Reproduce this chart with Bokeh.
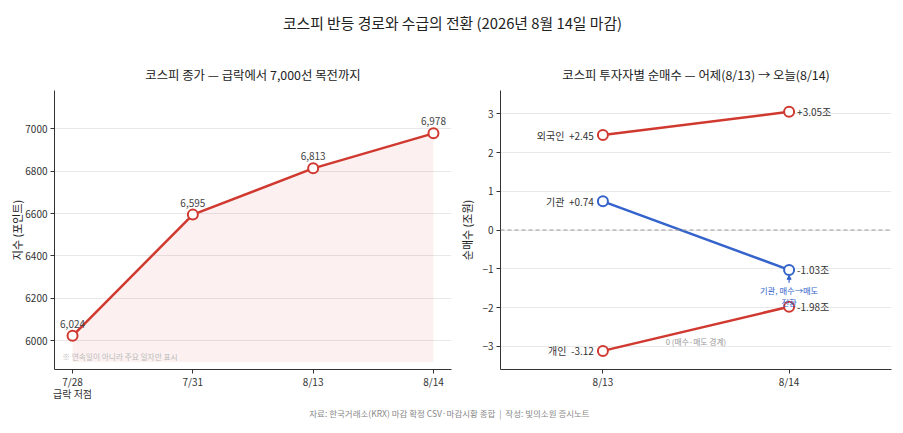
from bokeh.plotting import figure
from bokeh.models import (ColumnDataSource, Range1d, FixedTicker, Div, Arrow,
                          NormalHead, Span, Label, LabelSet)
from bokeh.layouts import column, row
from bokeh.embed import file_html
from bokeh.resources import INLINE
from bokeh.core.properties import value

FONT = "Noto Sans CJK KR"
RED = "#d0392f"
BLUE = "#3563cc"

# ---------------- data ----------------
dates = ["7/28", "7/31", "8/13", "8/14"]
date_notes = ["급락 저점", "", "", ""]
kospi = [6024, 6595, 6813, 6978]
fill_base = 5900

days = ["8/13", "8/14"]
investors = ["외국인", "기관", "개인"]
net_813 = [2.45, 0.74, -3.12]
net_814 = [3.05, -1.03, -1.98]
inv_colors = [RED, BLUE, RED]

left_yticks = [6000, 6200, 6400, 6600, 6800, 7000]
right_yticks = [-3, -2, -1, 0, 1, 2, 3]

main_title = "코스피 반등 경로와 수급의 전환 (2026년 8월 14일 마감)"
left_title = "코스피 종가 — 급락에서 7,000선 목전까지"
right_title = "코스피 투자자별 순매수 — 어제(8/13) → 오늘(8/14)"
left_ylabel = "지수 (포인트)"
right_ylabel = "순매수 (조원)"
left_note = "※ 연속일이 아니라 주요 일자만 표시"
zero_note = "0 (매수·매도 경계)"
turn_note = "기관, 매수→매도\n전환"
footer = "자료: 한국거래소(KRX) 마감 확정 CSV·마감시황 종합 &nbsp;|&nbsp; 작성: 빛의소원 증시노트"


def style(p, ylab_standoff):
    p.outline_line_color = None
    p.xgrid.grid_line_color = None
    p.ygrid.grid_line_color = "#e8e8e8"
    p.ygrid.grid_line_width = 1
    for ax in p.axis:
        ax.axis_line_color = "#333333"
        ax.axis_line_width = 1
        ax.major_tick_line_color = "#333333"
        ax.major_tick_out = 4
        ax.major_tick_in = 0
        ax.minor_tick_line_color = None
        ax.major_label_text_font = FONT
        ax.major_label_text_font_size = "10px"
        ax.major_label_text_color = "#333333"
        ax.axis_label_text_font = FONT
        ax.axis_label_text_font_size = "11px"
        ax.axis_label_text_font_style = "normal"
        ax.axis_label_text_color = "#222222"
        ax.major_label_standoff = 3
    p.xaxis.major_label_standoff = 0
    p.xaxis.major_label_text_line_height = 0.85
    p.yaxis.axis_label_standoff = ylab_standoff
    p.title.text_font = FONT
    p.title.text_font_size = "12.4px"
    p.title.text_font_style = "normal"
    p.title.align = "center"
    p.title.text_color = "#222222"
    p.title.standoff = 13


# ---------------- left chart ----------------
p1 = figure(width=450, height=360, x_range=Range1d(-0.15, 3.15),
            y_range=Range1d(5865, 7180), output_backend="svg",
            toolbar_location=None, min_border_left=47, min_border_right=5,
            min_border_top=45, min_border_bottom=36, title=left_title)
style(p1, -3)
xs = list(range(len(dates)))
src1 = ColumnDataSource(dict(x=xs, y=kospi, lab=[f"{v:,}" for v in kospi]))
p1.varea(x=xs, y1=[fill_base] * len(xs), y2=kospi, fill_color=RED, fill_alpha=0.07)
p1.line("x", "y", source=src1, line_color=RED, line_width=2.5)
p1.scatter("x", "y", source=src1, size=10, fill_color="white",
           line_color=RED, line_width=2)
p1.add_layout(LabelSet(x="x", y="y", text="lab", source=src1, y_offset=8,
                       text_align="center", text_font=value(FONT),
                       text_font_size="10px", text_color="#444444"))
p1.add_layout(Label(x=-0.085, y=fill_base + 26, text=left_note,
                    text_font=FONT, text_font_size="7.7px",
                    text_color="#bbbbbb", text_baseline="middle"))
p1.xaxis.ticker = FixedTicker(ticks=xs)
p1.xaxis.major_label_overrides = {
    i: (d + ("\n" + n if n else "")) for i, (d, n) in enumerate(zip(dates, date_notes))}
p1.yaxis.ticker = FixedTicker(ticks=left_yticks)
p1.yaxis.axis_label = left_ylabel

# ---------------- right chart ----------------
p2 = figure(width=437, height=360, x_range=Range1d(-0.55, 1.55),
            y_range=Range1d(-3.6, 3.6), output_backend="svg",
            toolbar_location=None, min_border_left=39, min_border_right=2,
            min_border_top=45, min_border_bottom=36, title=right_title)
style(p2, 4)
p2.add_layout(Span(location=0, dimension="width", line_color="#999999",
                   line_dash="4 3", line_width=1))
for name, a, b, c in zip(investors, net_813, net_814, inv_colors):
    s = ColumnDataSource(dict(x=[0, 1], y=[a, b]))
    p2.line("x", "y", source=s, line_color=c, line_width=2.5)
    p2.scatter("x", "y", source=s, size=10, fill_color="white",
               line_color=c, line_width=2)

lsrc = ColumnDataSource(dict(x=[0] * len(investors), y=net_813,
                             lab=[f"{n}\u00a0\u00a0{v:+.2f}" for n, v in zip(investors, net_813)]))
rsrc = ColumnDataSource(dict(x=[1] * len(investors), y=net_814,
                             lab=[f"{v:+.2f}조" for v in net_814]))
p2.add_layout(LabelSet(x="x", y="y", text="lab", source=lsrc, x_offset=-9,
                       text_align="right", text_baseline="middle",
                       text_font=value(FONT), text_font_size="10px",
                       text_color="#333333"))
p2.add_layout(LabelSet(x="x", y="y", text="lab", source=rsrc, x_offset=8,
                       text_align="left", text_baseline="middle",
                       text_font=value(FONT), text_font_size="10px",
                       text_color="#333333"))
p2.add_layout(Arrow(end=NormalHead(size=4, fill_color=BLUE, line_color=BLUE),
                    x_start=1, y_start=net_814[1] - 0.33,
                    x_end=1, y_end=net_814[1] - 0.14,
                    line_color=BLUE, line_width=1.2))
p2.add_layout(Label(x=1, y=net_814[1] - 0.36, text=turn_note,
                    text_align="center", text_baseline="top",
                    text_font=FONT, text_font_size="8.3px",
                    text_color=BLUE, text_line_height=1.0))
p2.add_layout(Label(x=0.5, y=-2.87, text=zero_note, text_align="center",
                    text_baseline="middle", text_font=FONT,
                    text_font_size="7.8px", text_color="#999999"))
p2.xaxis.ticker = FixedTicker(ticks=[0, 1])
p2.xaxis.major_label_overrides = {i: d for i, d in enumerate(days)}
p2.yaxis.ticker = FixedTicker(ticks=right_yticks)
p2.yaxis.axis_label = right_ylabel

# ---------------- layout ----------------
title_div = Div(
    text=f'<div style="width:887px;text-align:center;font-family:\'{FONT}\';'
         f'font-size:14.8px;line-height:20px;color:#222;padding-top:13px;'
         f'padding-left:6px;box-sizing:border-box;">{main_title}</div>',
    width=887, height=45, margin=0)
footer_div = Div(
    text=f'<div style="width:887px;text-align:center;font-family:\'{FONT}\';'
         f'font-size:8.5px;line-height:12px;color:#888;padding-top:0px;">{footer}</div>',
    width=887, height=14, margin=0)

layout = column(title_div, row(p1, p2, spacing=0), footer_div, spacing=0,
                margin=(0, 0, 0, 6))

open("out.html", "w").write(file_html(layout, INLINE))
